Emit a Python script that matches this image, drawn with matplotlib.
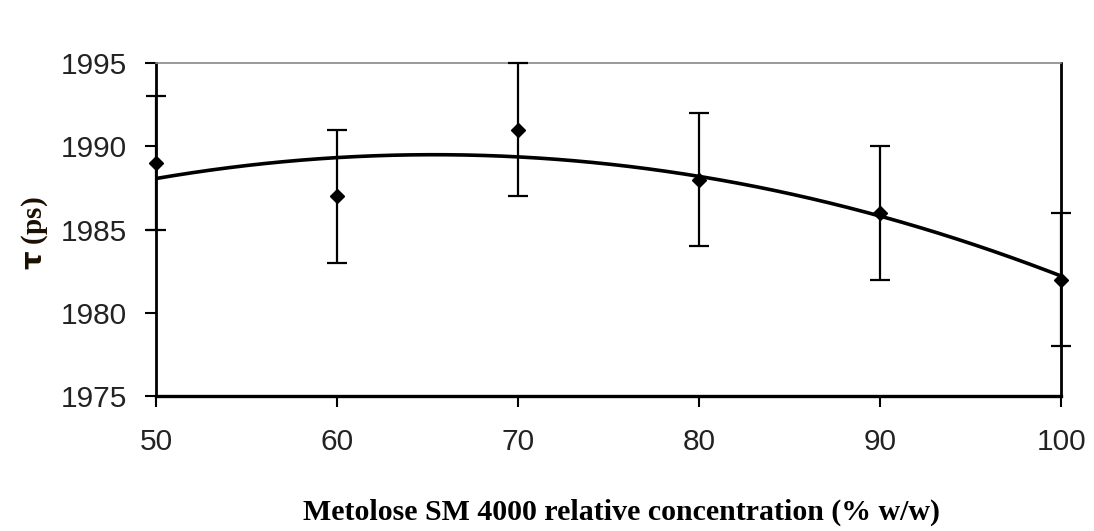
import matplotlib
matplotlib.use("Agg")

import matplotlib.pyplot as plt
import numpy as np

# data
concentration = [50, 60, 70, 80, 90, 100]
tau = [1989, 1987, 1991, 1988, 1986, 1982]
tau_err = [4, 4, 4, 4, 4, 4]
x_ticks = [50, 60, 70, 80, 90, 100]
y_ticks = [1975, 1980, 1985, 1990, 1995]

# 2nd order polynomial trend line through the points
coef = np.polyfit(concentration, tau, 2)
xs = np.linspace(50, 100, 200)
trend = np.polyval(coef, xs)

fig = plt.figure(figsize=(10.94, 5.31), dpi=100)
ax = fig.add_axes([0.1426, 0.254, 0.8274, 0.627])

ax.plot(xs, trend, color='black', lw=2.6, zorder=2)
ax.errorbar(concentration, tau, yerr=tau_err, fmt='D', color='black',
            ms=7, elinewidth=1.6, capsize=7, capthick=1.6, zorder=3,
            clip_on=False)

ax.set_xlim(50, 100)
ax.set_ylim(1975, 1995)
ax.set_xticks(x_ticks)
ax.set_yticks(y_ticks)

tick_font = dict(family='Liberation Sans', size=21.5, color='#222222')
ax.set_xticklabels([str(v) for v in x_ticks], fontdict=tick_font)
ax.set_yticklabels([str(v) for v in y_ticks], fontdict=tick_font)
ax.tick_params(axis='x', direction='out', length=8, width=1.5, pad=15)
ax.tick_params(axis='y', direction='out', length=8, width=1.5, pad=13)

ax.spines['left'].set_linewidth(2)
ax.spines['bottom'].set_linewidth(2.4)
ax.spines['right'].set_linewidth(2)
ax.spines['top'].set_linewidth(1.2)
ax.spines['top'].set_color('#888888')

fig.text(0.032, 0.56, r'$\mathbf{\tau}$ (ps)', rotation=90, ha='center',
         va='center', family='Liberation Serif', weight='bold', size=21,
         color='#1a0f00')
fig.text(0.568, 0.036, 'Metolose SM 4000 relative concentration (% w/w)',
         ha='center', va='center', family='Liberation Serif', weight='bold',
         size=21.5)

fig.savefig('out.png', dpi=100)
